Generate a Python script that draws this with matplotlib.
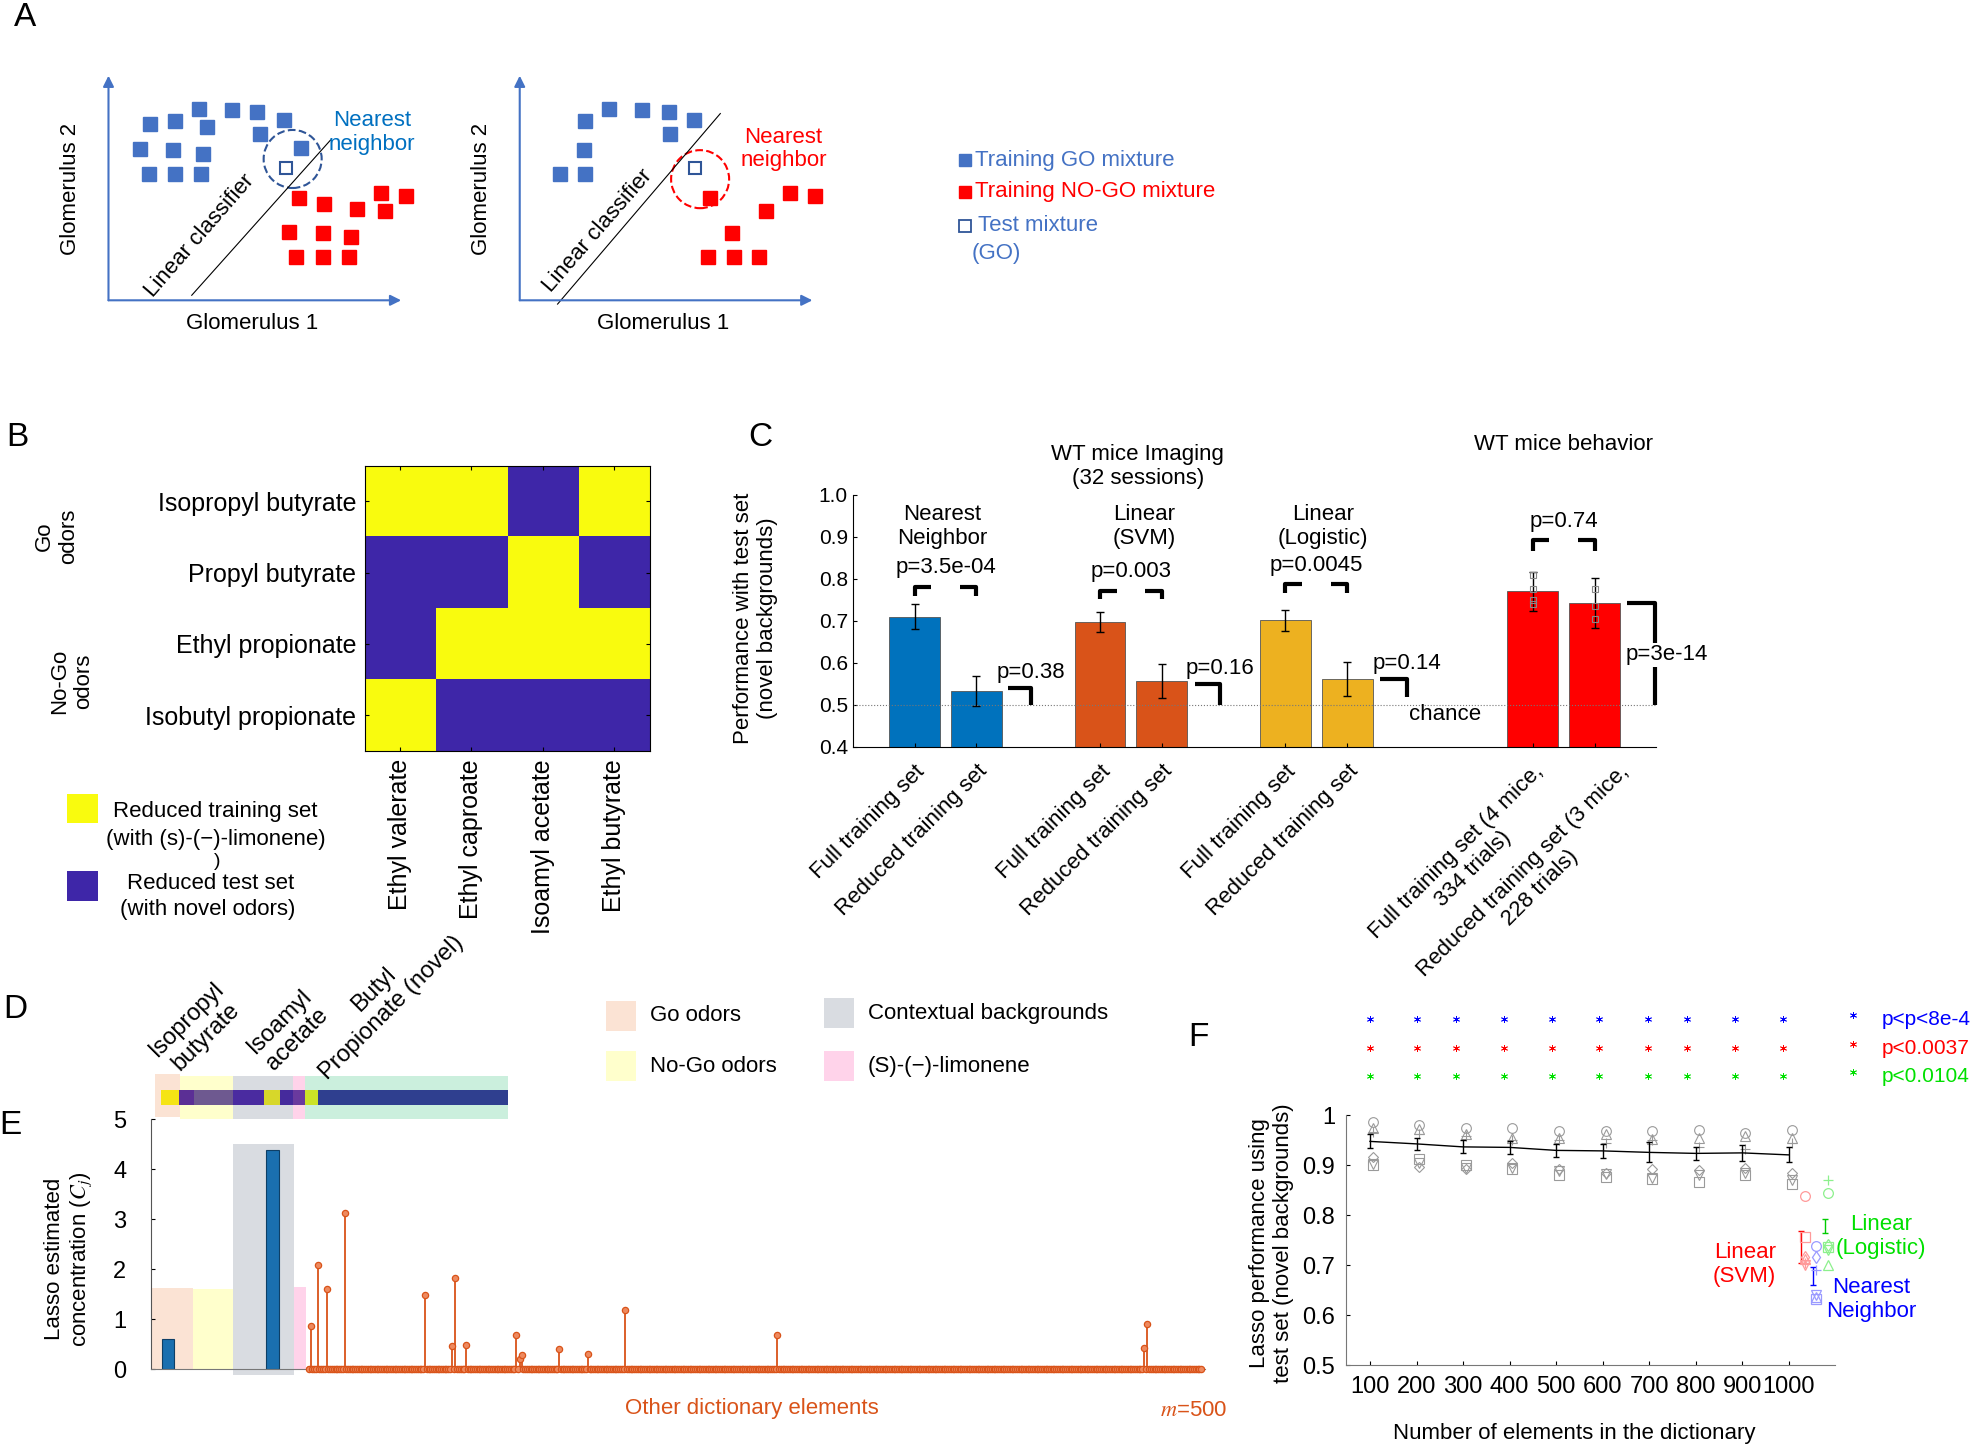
import matplotlib
matplotlib.use("Agg")
import numpy as np
import matplotlib.pyplot as plt
from matplotlib.patches import Rectangle, Circle
from matplotlib.colors import ListedColormap
from matplotlib.transforms import blended_transform_factory, ScaledTranslation

plt.rcParams['font.family'] = ['Liberation Sans', 'DejaVu Sans']
plt.rcParams['mathtext.fontset'] = 'stix'
plt.rcParams['axes.linewidth'] = 0.8

# ---------------- data ----------------
# panel A: glomerulus space (arbitrary units, origin at axis corner)
go_left = [(33, 140), (53, 142), (72, 152), (98, 151), (118, 149), (139, 143), (78, 137),
           (120, 132), (153, 121), (25, 120), (51, 119), (75, 116), (32, 100), (53, 100), (73, 100)]
nogo_left = [(151, 81), (171, 76), (197, 72), (219, 71), (216, 85), (236, 83), (143, 54),
             (170, 53), (192, 50), (149, 34), (170, 34), (191, 34)]
test_left = (141, 105)
go_right = [(71, 152), (97, 151), (118, 149), (138, 143), (52, 142), (119, 132), (51, 119),
            (32, 100), (52, 100)]
nogo_right = [(151, 81), (214, 85), (234, 83), (195, 71), (168, 53), (149, 34), (170, 34), (190, 34)]
test_right = (139, 105)

# panel B: reduced training (1) / test (0) set
go_odors = ["Isopropyl butyrate", "Propyl butyrate", "Ethyl propionate", "Isobutyl propionate"]
backgrounds = ["Ethyl valerate", "Ethyl caproate", "Isoamyl acetate", "Ethyl butyrate"]
train_matrix = [[1, 1, 0, 1],
                [0, 0, 1, 0],
                [0, 1, 1, 1],
                [1, 0, 0, 0]]

# panel C: performance with test set
c_labels = ["Full training set", "Reduced training set", "Full training set", "Reduced training set",
            "Full training set", "Reduced training set", "Full training set (4 mice,\n334 trials)",
            "Reduced training set (3 mice,\n228 trials)"]
c_pos = [1, 2, 4, 5, 7, 8, 11, 12]
c_vals = [0.710, 0.533, 0.698, 0.557, 0.701, 0.562, 0.770, 0.742]
c_err = [0.029, 0.036, 0.024, 0.040, 0.025, 0.040, 0.047, 0.059]
c_colors = ["#0072BD", "#0072BD", "#D95319", "#D95319", "#EDB120", "#EDB120", "#FF0000", "#FF0000"]
beh_full = [0.810, 0.775, 0.750, 0.740]
beh_reduced = [0.775, 0.735, 0.705]
# pair comparisons (full vs reduced): x1, x2, y, p-text
pair_x1 = [1, 4, 7, 11]
pair_x2 = [2, 5, 8, 12]
pair_y = [0.781, 0.772, 0.787, 0.892]
pair_drop = [0.021, 0.021, 0.021, 0.027]
pair_p = ["p=3.5e-04", "p=0.003", "p=0.0045", "p=0.74"]
# reduced vs chance
chance_x = [2.51, 5.53, 8.53, 12.53]
chance_x2 = [2.88, 5.94, 8.96, 12.98]
chance_y = [0.541, 0.550, 0.562, 0.742]
chance_end = [0.500, 0.500, 0.520, 0.500]
chance_p = ["p=0.38", "p=0.16", "p=0.14", "p=3e-14"]

# panel E: lasso estimated concentrations
e_odor_x = [-77.7, -19.4]
e_odor_val = [0.60, 4.38]
e_stem_idx = [2, 6, 11, 21, 66, 81, 83, 89, 117, 119, 120, 141, 157, 178, 263, 468, 470]
e_stem_val = [0.87, 2.08, 1.60, 3.13, 1.49, 0.46, 1.83, 0.48, 0.69, 0.20, 0.29, 0.40, 0.30,
              1.18, 0.69, 0.43, 0.91]
n_dict = 500

# panel F: lasso performance vs dictionary size
f_size = [100, 200, 300, 400, 500, 600, 700, 800, 900, 1000]
f_mean = [0.948, 0.943, 0.937, 0.936, 0.930, 0.929, 0.926, 0.924, 0.925, 0.921]
f_err = [0.014, 0.012, 0.013, 0.013, 0.013, 0.014, 0.020, 0.013, 0.016, 0.015]
f_circle = [0.987, 0.980, 0.975, 0.975, 0.968, 0.968, 0.968, 0.970, 0.965, 0.970]
f_tri_up = [0.975, 0.972, 0.962, 0.955, 0.955, 0.962, 0.953, 0.955, 0.958, 0.955]
f_plus = [0.967, 0.963, 0.958, 0.950, 0.950, 0.945, 0.950, 0.937, 0.932, 0.945]
f_diamond = [0.917, 0.897, 0.893, 0.905, 0.893, 0.885, 0.892, 0.890, 0.895, 0.885]
f_square = [0.900, 0.912, 0.900, 0.893, 0.880, 0.877, 0.872, 0.866, 0.880, 0.862]
f_tri_down = [0.903, 0.905, 0.895, 0.895, 0.888, 0.882, 0.875, 0.880, 0.885, 0.870]
star_x = [100, 202, 285, 389, 491, 593, 698, 781, 884, 987]
star_p = ["p<p<8e-4", "p<0.0037", "p<0.0104"]
# other classifiers: mean, err, individual points (marker -> value)
svm_mean, svm_err = 0.737, 0.032
svm_pts = {'o': 0.838, 's': 0.756, '^': 0.712, '+': 0.705, 'v': 0.700, 'd': 0.716}
nn_mean, nn_err = 0.678, 0.018
nn_pts = {'o': 0.738, 'd': 0.716, '+': 0.690, 's': 0.633, '^': 0.636, 'v': 0.640}
log_mean, log_err = 0.778, 0.014
log_pts = {'+': 0.870, 'o': 0.845, 's': 0.737, 'v': 0.730, '^': 0.700, 'd': 0.740}

# ---------------- layout helpers ----------------
W, H = 1568, 1146


def rect(x0, y0, x1, y1):
    return [x0 / W, 1 - y1 / H, (x1 - x0) / W, (y1 - y0) / H]


fig = plt.figure(figsize=(19.78, 14.46), dpi=100)
FS = 16

# ---------------- panel A ----------------
AX_BLUE = "#4472C4"


def draw_space(ax, go, nogo, test, circ_xy, circ_col, line, lc_xy, nn_xy, nn_col):
    ax.set_xlim(-40, 270)
    ax.set_ylim(-32, 198)
    ax.axis('off')
    arrow = dict(arrowstyle='-|>', color=AX_BLUE, lw=1.5, mutation_scale=16, shrinkA=0, shrinkB=0)
    ax.annotate('', xy=(0, 178), xytext=(0, 0), arrowprops=arrow)
    ax.annotate('', xy=(232, 0), xytext=(0, 0), arrowprops=arrow)
    gx, gy = zip(*go)
    ax.plot(gx, gy, 's', color=AX_BLUE, ms=10)
    rx, ry = zip(*nogo)
    ax.plot(rx, ry, 's', color='#FF0000', ms=10)
    ax.plot(*test, 's', mfc='white', mec='#2F5597', ms=9, mew=1.5)
    ax.add_patch(Circle(circ_xy, 23, fill=False, ls='--', lw=1.5, ec=circ_col))
    ax.plot(line[0], line[1], color='black', lw=0.8)
    ax.text(lc_xy[0], lc_xy[1], "Linear classifier", rotation=49, fontsize=FS,
            ha='center', va='center')
    ax.text(nn_xy[0], nn_xy[1], "Nearest\nneighbor", color=nn_col, fontsize=FS, ha='center',
            va='center', linespacing=1.15)
    ax.text(-30, 88, "Glomerulus 2", rotation=90, fontsize=FS, ha='center', va='center')
    ax.text(114, -18, "Glomerulus 1", fontsize=FS, ha='center', va='center')


axA1 = fig.add_axes(rect(46, 40, 356, 270))
draw_space(axA1, go_left, nogo_left, test_left, (146, 112), '#2F5597',
           ([66, 176], [4, 127]), (72, 51), (209, 133), '#0070C0')
axA2 = fig.add_axes(rect(372, 40, 682, 270))
draw_space(axA2, go_right, nogo_right, test_right, (143, 96), '#FF0000',
           ([30, 159], [-3, 148]), (62, 55), (209, 120), '#FF0000')

# ---------------- panel B ----------------
axB = fig.add_axes(rect(289, 369, 515, 595))
axB.imshow(train_matrix, cmap=ListedColormap(["#3E26A8", "#F9FB0E"]), aspect='auto')
axB.set_yticks(range(4))
axB.set_yticklabels(go_odors, fontsize=18)
axB.set_xticks(range(4))
axB.set_xticklabels(backgrounds, rotation=90, fontsize=18)
axB.tick_params(direction='in', length=3, pad=6, top=True, right=True)

# ---------------- panel C ----------------
axC = fig.add_axes(rect(676, 392, 1313, 592))
axC.bar(c_pos, c_vals, width=0.82, color=c_colors, edgecolor='#555555', lw=0.6)
axC.errorbar(c_pos, c_vals, yerr=c_err, fmt='none', ecolor='black', elinewidth=1, capsize=3)
axC.plot([11] * len(beh_full), beh_full, 's', mfc='none', mec='#888888', ms=5, mew=0.8)
axC.plot([12] * len(beh_reduced), beh_reduced, 's', mfc='none', mec='#888888', ms=5, mew=0.8)
axC.axhline(0.5, color='#777777', ls=':', lw=0.8)
for x1, x2, y, d, p in zip(pair_x1, pair_x2, pair_y, pair_drop, pair_p):
    axC.plot([x1, x1, x1 + 0.27], [y - d, y, y], color='black', lw=3, solid_capstyle='butt')
    axC.plot([x2 - 0.27, x2, x2], [y, y, y - d], color='black', lw=3, solid_capstyle='butt')
    axC.text((x1 + x2) / 2, y + 0.045, p, fontsize=FS, ha='center', va='center')
for xa, xb, y, ye, p in zip(chance_x, chance_x2, chance_y, chance_end, chance_p):
    axC.plot([xa, xb, xb], [y, y, ye], color='black', lw=3, solid_capstyle='butt', clip_on=False)
    if p == "p=3e-14":
        axC.text(xb - 0.47, 0.619, p, fontsize=FS, ha='left', va='center', clip_on=False,
                 bbox=dict(fc='white', ec='none', pad=1))
    else:
        axC.text(xb, y + 0.036, p, fontsize=FS, ha='center', va='center')
axC.text(9.59, 0.478, "chance", fontsize=FS, ha='center', va='center')
axC.text(1.45, 0.925, "Nearest\nNeighbor", fontsize=FS, ha='center', va='center')
axC.text(4.71, 0.925, "Linear\n(SVM)", fontsize=FS, ha='center', va='center')
axC.text(7.61, 0.925, "Linear\n(Logistic)", fontsize=FS, ha='center', va='center')
axC.text(4.61, 1.066, "WT mice Imaging\n(32 sessions)", fontsize=FS, ha='center', va='center',
         clip_on=False)
axC.text(11.5, 1.12, "WT mice behavior", fontsize=FS, ha='center', va='center', clip_on=False)
axC.set_xlim(0, 13)
axC.set_ylim(0.4, 1.0)
axC.set_yticks(np.arange(0.4, 1.01, 0.1))
axC.set_yticklabels([f"{v:.1f}" for v in np.arange(0.4, 1.01, 0.1)], fontsize=15)
axC.set_xticks(c_pos)
axC.set_xticklabels(c_labels[:-1] + [""], rotation=45, ha='right', rotation_mode='anchor',
                    fontsize=FS, multialignment='center')
# last label sits a little further right, as in the original figure
lab_tr = blended_transform_factory(axC.transData, axC.transAxes) + \
    ScaledTranslation(0, -10 / 72, fig.dpi_scale_trans)
axC.text(c_pos[-1] + 0.38, 0, c_labels[-1], transform=lab_tr, rotation=45, ha='right', va='top',
         rotation_mode='anchor', fontsize=FS, multialignment='center', clip_on=False)
axC.tick_params(direction='in', length=3)
axC.tick_params(axis='x', pad=10)
for s in ['top', 'right']:
    axC.spines[s].set_visible(False)

# ---------------- panel D (strip) ----------------
axD = fig.add_axes(rect(120, 845, 405, 892))
axD.set_xlim(120, 405)
axD.set_ylim(892, 845)
axD.axis('off')
strip_bg_x = [123, 143, 185, 232, 242]
strip_bg_w = [20, 42, 47, 10, 161]
strip_bg_c = ["#FBE3D4", "#FFFFCC", "#D9DCE1", "#FFD3EA", "#CBEFDD"]
strip_bg_y = [851, 853, 853, 853, 853]
strip_bg_h = [34, 34, 35, 36, 35]
for x, w, c, y, h in zip(strip_bg_x, strip_bg_w, strip_bg_c, strip_bg_y, strip_bg_h):
    axD.add_patch(Rectangle((x, y), w, h, color=c, lw=0))
strip_x = [128, 142, 154, 185, 209, 222, 232, 242, 252]
strip_w = [14, 12, 31, 24, 13, 10, 10, 10, 151]
strip_c = ["#F5E415", "#5B2F95", "#6E5990", "#4A2BA0", "#D7D72A", "#452A9C", "#6A3A9E",
           "#CBE327", "#2F3F8F"]
for x, w, c in zip(strip_x, strip_w, strip_c):
    axD.add_patch(Rectangle((x, 864), w, 12, color=c, lw=0))

# ---------------- panel E ----------------
axE = fig.add_axes(rect(120, 887, 955, 1085))
region_x0 = [-86.8, -63.7, -41.2, -7.4]
region_x1 = [-63.7, -41.2, -7.4, -0.4]
region_bot = [0, 0, -0.12, 0]
region_top = [1.62, 1.60, 4.50, 1.65]
region_col = ["#FBE3D4", "#FFFFCC", "#D9DCE1", "#FFD3EA"]
for x0, x1, b, t, c in zip(region_x0, region_x1, region_bot, region_top, region_col):
    axE.add_patch(Rectangle((x0, b), x1 - x0, t - b, color=c, lw=0, clip_on=False, zorder=0))
axE.bar(e_odor_x, e_odor_val, width=7, color="#1A6FAF", edgecolor="#0E3F66", lw=0.8, zorder=2)
elements = np.arange(1, n_dict + 1)
conc = np.zeros(n_dict)
conc[np.array(e_stem_idx) - 1] = e_stem_val
axE.vlines(e_stem_idx, 0, e_stem_val, color="#D95319", lw=1.3, zorder=3)
axE.plot([1, n_dict], [0, 0], color="#D95319", lw=4, zorder=3, clip_on=False,
         solid_capstyle='round')
axE.plot(elements, conc, 'o', ms=4.5, mfc="#EE8A5F", mec="#D95319", mew=0.9, zorder=4,
         clip_on=False)
axE.set_xlim(-87, 502)
axE.set_ylim(0, 5)
axE.set_yticks(range(6))
axE.set_yticklabels([str(v) for v in range(6)], fontsize=17)
axE.set_xticks([])
axE.tick_params(direction='in', length=3, pad=18)
for s in ['top', 'right']:
    axE.spines[s].set_visible(False)
axE.spines['left'].set_color('#555555')
axE.spines['bottom'].set_color('#777777')
axE.text(249, -0.78, "Other dictionary elements", color="#D95319", fontsize=FS, ha='center',
         va='center', clip_on=False)
axE.text(496, -0.83, r"$m$=500", color="#D95319", fontsize=FS, ha='center', va='center',
         clip_on=False)

# ---------------- panel F ----------------
axF = fig.add_axes(rect(1067, 884, 1455, 1082))
gray = "#9A9A9A"
for vals, mk in [(f_circle, 'o'), (f_tri_up, '^'), (f_plus, '+'), (f_diamond, 'D'),
                 (f_square, 's'), (f_tri_down, 'v')]:
    axF.plot(np.array(f_size) + 6, vals, mk, mfc='none', mec=gray, ms=7 if mk != 'D' else 5.5,
             mew=0.8, ls='none')
axF.errorbar(f_size, f_mean, yerr=f_err, color='black', lw=1, capsize=2.5, elinewidth=1)
for xm, mean, err, pts, col, light in [(1026, svm_mean, svm_err, svm_pts, '#FF0000', '#FF9A9A'),
                                       (1051, nn_mean, nn_err, nn_pts, '#0000FF', '#9A9AFF'),
                                       (1077, log_mean, log_err, log_pts, '#00CC00', '#8CF08C')]:
    axF.errorbar([xm], [mean], yerr=[err], color=col, capsize=2, elinewidth=1, fmt='none')
    for mk, v in pts.items():
        axF.plot([xm + 8], [v], mk, mfc='none', mec=light, ms=7 if mk != 'd' else 6, mew=0.9,
                 clip_on=False)
axF.text(905, 0.702, "Linear\n(SVM)", color='#FF0000', fontsize=FS, ha='center', va='center')
axF.text(1198, 0.758, "Linear\n(Logistic)", color='#00E000', fontsize=FS, ha='center',
         va='center', clip_on=False)
axF.text(1176, 0.631, "Nearest\nNeighbor", color='#0000FF', fontsize=FS, ha='center',
         va='center', clip_on=False)
for y, col, p in zip([1.192, 1.134, 1.078], ['#0000FF', '#FF0000', '#00E000'], star_p):
    axF.plot(star_x, [y] * len(star_x), ls='none', color=col, ms=5, mew=0.6, clip_on=False,
             marker=(6, 2, 0))
    axF.plot([1138], [y + 0.008], color=col, ms=5, mew=0.6, clip_on=False, marker=(6, 2, 0))
    axF.text(1200, y, p, color=col, fontsize=15, ha='left', va='center', clip_on=False)
axF.set_xlim(48.5, 1100)
axF.set_ylim(0.5, 1.0)
axF.set_xticks(f_size)
axF.set_xticklabels([str(v) for v in f_size], fontsize=17)
axF.set_yticks([0.5, 0.6, 0.7, 0.8, 0.9, 1.0])
axF.set_yticklabels(["0.5", "0.6", "0.7", "0.8", "0.9", "1"], fontsize=17)
axF.tick_params(direction='in', length=3, pad=8)
for s in ['top', 'right']:
    axF.spines[s].set_visible(False)
axF.spines['left'].set_color('#777777')
axF.spines['bottom'].set_color('#777777')

# ---------------- overlay: labels, legends ----------------
ov = fig.add_axes([0, 0, 1, 1], zorder=5)
ov.set_xlim(0, W)
ov.set_ylim(H, 0)
ov.axis('off')
ov.patch.set_alpha(0)
for lab, x, y in [("A", 20, 14), ("B", 14, 347), ("C", 603, 347), ("D", 12, 800), ("E", 8, 892),
                  ("F", 950, 822)]:
    ov.text(x, y, lab, fontsize=24, ha='center', va='center')

# A legend
ov.plot(765, 127, 's', color=AX_BLUE, ms=8)
ov.text(773, 127, "Training GO mixture", color=AX_BLUE, fontsize=FS, va='center')
ov.plot(765, 152, 's', color='#FF0000', ms=8)
ov.text(773, 152, "Training NO-GO mixture", color='#FF0000', fontsize=FS, va='center')
ov.plot(765, 179, 's', mfc='white', mec='#2F5597', ms=8, mew=1.3)
ov.text(775, 179, "Test mixture", color=AX_BLUE, fontsize=FS, va='center')
ov.text(770, 201, "(GO)", color=AX_BLUE, fontsize=FS, va='center')

# B legend and row groups
ov.add_patch(Rectangle((53, 629), 25, 23, color="#F9FB0E", lw=0))
ov.add_patch(Rectangle((53, 690), 25, 24, color="#3E26A8", lw=0))
ov.text(171, 643, "Reduced training set", fontsize=FS, ha='center', va='center')
ov.text(171, 665, "(with (s)-(\u2212)-limonene)", fontsize=FS, ha='center', va='center')
ov.text(172, 683, ")", fontsize=FS - 2, ha='center', va='center')
ov.text(167, 700, "Reduced test set", fontsize=FS, ha='center', va='center')
ov.text(165, 721, "(with novel odors)", fontsize=FS, ha='center', va='center')
ov.text(45, 425, "Go\nodors", fontsize=FS, rotation=90, ha='center', va='center')
ov.text(57, 540, "No-Go\nodors", fontsize=FS, rotation=90, ha='center', va='center')

# axis labels placed in figure space
ov.text(599, 490, "Performance with test set\n(novel backgrounds)", fontsize=FS, rotation=90,
        ha='center', va='center')
ov.text(55, 998, "Lasso estimated\nconcentration ($\\mathit{C_j}$)", fontsize=FS, rotation=90,
        ha='center', va='center')
ov.text(1008, 985, "Lasso performance using\ntest set (novel backgrounds)", fontsize=FS,
        rotation=90, ha='center', va='center')
ov.text(1248, 1136, "Number of elements in the dictionary", fontsize=FS, ha='center', va='center')

# D legend
for x, y, c, t in [(480, 793, "#FBE3D4", "Go odors"), (480, 833, "#FFFFCC", "No-Go odors"),
                   (653, 791, "#D9DCE1", "Contextual backgrounds"),
                   (653, 833, "#FFD3EA", "(S)-(\u2212)-limonene")]:
    ov.add_patch(Rectangle((x, y), 24, 24, color=c, lw=0))
    ov.text(x + 35, y + 12, t, fontsize=FS, va='center')

# D rotated odor names
for x, y, t in [(169, 828, "Isopropyl\nbutyrate"), (242, 830, "Isoamyl\nacetate"),
                (317, 805, "Butyl\nPropionate (novel)")]:
    ov.text(x, y, t, fontsize=17, rotation=45, rotation_mode='anchor',
            ha='center', va='bottom', multialignment='center', linespacing=1.2)

fig.savefig("out.png", dpi=100)
